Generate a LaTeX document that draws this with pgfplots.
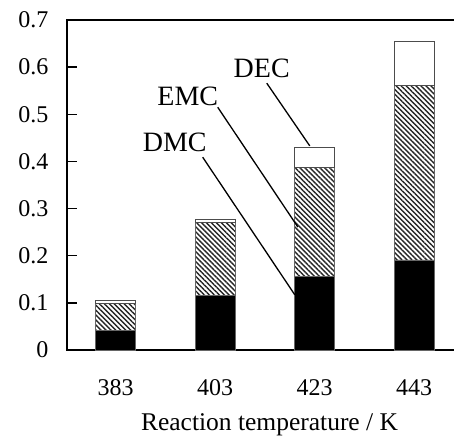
\documentclass[border=0pt]{standalone}
\usepackage{fontspec}
\setmainfont{Liberation Serif}
\usepackage{pgfplots}
\pgfplotsset{compat=1.18}
\usetikzlibrary{patterns.meta}
\begin{document}
\begin{tikzpicture}
\begin{axis}[
  at={(0pt,0pt)}, anchor=south west,
  scale only axis, width=388pt, height=330pt,
  bar width=40pt,
  xmin=-0.49, xmax=3.41, ymin=0, ymax=0.7,
  xtick={0,1,2,3}, xticklabels={383,403,423,443},
  ytick={0,0.1,0.2,0.3,0.4,0.5,0.6,0.7},
  yticklabels={0,0.1,0.2,0.3,0.4,0.5,0.6,0.7},
  axis line style={line width=1.5pt},
  tick align=inside, major tick length=10pt,
  ytick pos=left, xtick pos=bottom,
  every y tick/.style={line width=1.5pt},
  every x tick/.style={draw=none},
  tick label style={font=\fontsize{24}{28}\selectfont},
  /pgf/number format/assume math mode=true,
  yticklabel style={xshift=-15pt},
  xticklabel style={yshift=-26pt},
  xlabel={Reaction temperature / K},
  xlabel style={font=\fontsize{25.5}{29}\selectfont, at={(rel axis cs:0.522,-0.245)}, anchor=base},
  clip=false,
]
\fill[black] (rel axis cs:0,1) ++(0pt,-0.8pt) rectangle ([yshift=0.8pt]rel axis cs:1,1);
\fill[black] (axis cs:-0.49,0.1) ++(0pt,-0.75pt) rectangle ++(10pt,1.5pt);
\fill[black] (axis cs:-0.49,0.2) ++(0pt,-0.75pt) rectangle ++(10pt,1.5pt);
\fill[black] (axis cs:-0.49,0.3) ++(0pt,-0.75pt) rectangle ++(10pt,1.5pt);
\fill[black] (axis cs:-0.49,0.4) ++(0pt,-0.75pt) rectangle ++(10pt,1.5pt);
\fill[black] (axis cs:-0.49,0.5) ++(0pt,-0.75pt) rectangle ++(10pt,1.5pt);
\fill[black] (axis cs:-0.49,0.6) ++(0pt,-0.75pt) rectangle ++(10pt,1.5pt);
\addplot[ybar stacked, fill=black, draw=black!60, line width=0.8pt] coordinates {(0,0.042) (1,0.115) (2,0.156) (3,0.191)};
\addplot[ybar stacked, pattern={Lines[angle=-45, distance=3.5pt, line width=1.4pt]}, pattern color=black!85, draw=black!60, line width=0.8pt] coordinates {(0,0.056) (1,0.155) (2,0.232) (3,0.371)};
\addplot[ybar stacked, fill=white, draw=black!70, line width=0.8pt] coordinates {(0,0.008) (1,0.006) (2,0.041) (3,0.092)};
\node[font=\fontsize{28}{32}\selectfont] at (axis cs:1.467,0.598) {DEC};
\node[font=\fontsize{28}{32}\selectfont] at (axis cs:0.724,0.537) {EMC};
\node[font=\fontsize{28}{32}\selectfont] at (axis cs:0.593,0.441) {DMC};
\draw[line width=1.3pt] (axis cs:1.518,0.566) -- (axis cs:1.95,0.433);
\draw[line width=1.3pt] (axis cs:1.025,0.515) -- (axis cs:1.83,0.261);
\draw[line width=1.3pt] (axis cs:0.874,0.409) -- (axis cs:1.80,0.117);
\end{axis}
\pgfresetboundingbox
\path (-67pt,-87pt) rectangle (387pt,350pt);
\end{tikzpicture}
\end{document}
